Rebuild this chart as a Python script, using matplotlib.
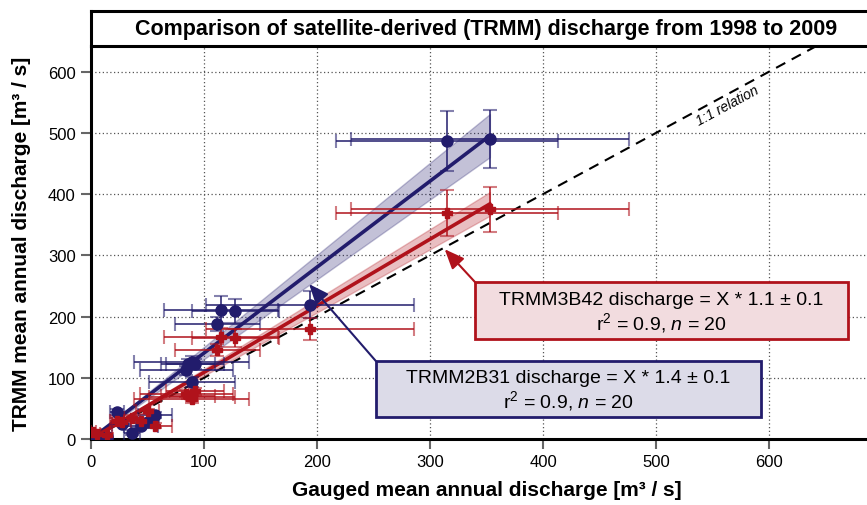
"""Satellite-derived (TRMM) vs gauged annual discharge."""

import matplotlib.pyplot as plt
import numpy as np
from matplotlib.patches import Rectangle

plt.rcParams["font.family"] = ["Liberation Sans", "DejaVu Sans"]
plt.rcParams["mathtext.fontset"] = "custom"
plt.rcParams["mathtext.rm"] = "Liberation Sans"
plt.rcParams["mathtext.it"] = "Liberation Sans:italic"

# gauged discharge (shared x for both products) [m3/s]
gauged = [2, 5, 14, 23, 27, 36, 44, 50, 57, 84.5, 86, 89, 89, 92,
          111.7, 114.8, 127.8, 194, 315, 353]
gauged_err = [2, 3, 5, 6, 8, 7, 15, 10, 15, 41, 24, 51, 38, 26,
              37.5, 50.5, 38.7, 92, 98, 123]
# TRMM2B31 (blue) and TRMM3B42 (red) mean annual discharge [m3/s]
b31 = [5, 3, 3, 44, 25, 10, 22, 28, 39, 112, 122, 125, 93, 122,
       188, 211, 209, 219, 487, 490]
b31_err = [3, 2, 3, 5, 4, 4, 4, 4, 5, 8, 8, 10, 8, 8,
           12, 22, 20, 22, 49, 48]
b42 = [11, 8, 6, 30, 28, 35, 30, 45, 22, 74, 71, 65, 68, 78,
       146, 166, 165, 179, 369, 375]
b42_err = [3, 3, 3, 4, 4, 4, 4, 4, 4, 6, 6, 6, 6, 6,
           10, 15, 15, 18, 37, 37]

# regression slope through origin and its uncertainty band
slopes = {"b31": (1.404, 0.1), "b42": (1.088, 0.055)}

NAVY = "#221c6c"
RED = "#b0121b"

fig = plt.figure(figsize=(8.67, 5.06), dpi=100)
W, H = 867, 506
ax = fig.add_axes([91 / W, 1 - 440 / H, (882 - 91) / W, (440 - 47) / H])
strip = fig.add_axes([91 / W, 1 - 47 / H, (882 - 91) / W, 35 / H])

ax.set_xlim(0, 700)
ax.set_ylim(0, 642)
ax.set_xticks(np.arange(0, 700, 100))
ax.set_yticks(np.arange(0, 700, 100))
ax.grid(True, linestyle=(0, (1, 2)), color="#555555", linewidth=0.9)
ax.set_axisbelow(True)
ax.tick_params(direction="out", length=7, width=1.5, color="#666666", labelsize=12, pad=4)
for side in ("top", "right"):
    ax.spines[side].set_visible(False)
for side in ("left", "bottom"):
    ax.spines[side].set_linewidth(2.2)

# 1:1 relation
ax.plot([0, 700], [0, 700], color="black", linestyle=(0, (5, 3.5)), linewidth=1.5, zorder=2)
ax.text(563, 545, "1:1 relation", rotation=28.4, fontsize=10, style="italic",
        ha="center", va="center", rotation_mode="anchor")

x = np.array(gauged, dtype=float)
xx = np.array([0, x.max()])
for key, y, yerr, color, marker, ms in (
    ("b31", b31, b31_err, NAVY, "o", 8),
    ("b42", b42, b42_err, RED, "P", 7.5),
):
    s, d = slopes[key]
    ax.fill_between(xx, xx * (s - d), xx * (s + d), facecolor=color, alpha=0.27,
                    edgecolor=color, linewidth=1.0, zorder=3)
    ax.plot(xx, xx * s, color=color, linewidth=2.6, zorder=4)
    _, caps, _ = ax.errorbar(x, y, xerr=gauged_err, yerr=yerr, fmt=marker, color=color,
                             ms=ms, elinewidth=1.1, capsize=5, capthick=1.5, zorder=5)
    for c in caps:
        c.set_alpha(0.55)

# annotation boxes
boxes = [
    ((340, 163), (330, 93), "#f2dcdf", RED, "TRMM3B42 discharge = X * 1.1 ± 0.1", (313, 310)),
    ((252, 36), (341, 91.5), "#dcdbe8", NAVY, "TRMM2B31 discharge = X * 1.4 ± 0.1", (193, 253)),
]
for (bx, by), (bw, bh), fc, ec, line1, target in boxes:
    ax.add_patch(Rectangle((bx, by), bw, bh, facecolor=fc, edgecolor=ec, linewidth=2, zorder=6))
    ax.text(bx + bw / 2, by + bh * 0.7, line1, ha="center", va="center", fontsize=14, zorder=7)
    ax.text(bx + bw / 2, by + bh * 0.3, r"r$^2$ = 0.9, $\mathit{n}$ = $\mathit{20}$",
            ha="center", va="center", fontsize=14, zorder=7)
    ax.annotate("", xy=target, xytext=(bx, by + bh),
                arrowprops=dict(arrowstyle="-|>,head_length=1.2,head_width=0.5",
                                color=ec, linewidth=1.5, shrinkA=0, shrinkB=0), zorder=7)

ax.set_xlabel("Gauged mean annual discharge [m³ / s]", fontsize=15, fontweight="bold", labelpad=8)
ax.set_ylabel("TRMM mean annual discharge [m³ / s]", fontsize=15, fontweight="bold", labelpad=12)

# title strip
strip.set_xticks([])
strip.set_yticks([])
for side in ("top", "bottom", "left"):
    strip.spines[side].set_linewidth(2.2)
strip.spines["right"].set_visible(False)
strip.text(0.5, 0.5, "Comparison of satellite-derived (TRMM) discharge from 1998 to 2009",
           ha="center", va="center", fontsize=15.5, fontweight="bold", transform=strip.transAxes)

fig.savefig("out.png", dpi=100)
